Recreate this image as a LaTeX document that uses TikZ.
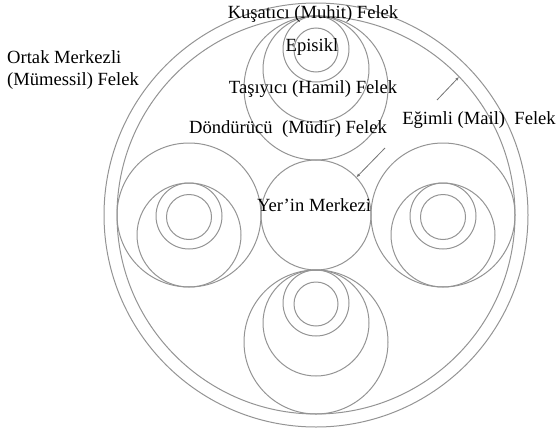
\documentclass[tikz,border=0pt]{standalone}
\usepackage{fontspec}
\setmainfont{Liberation Serif}
\usetikzlibrary{arrows.meta}
\begin{document}
\begin{tikzpicture}[x=1pt,y=-1pt,
  orb/.style={circle,draw=black!42,line width=1pt,inner sep=0pt,outer sep=0pt},
  lbl/.style={font=\fontsize{18.6}{22}\selectfont,inner sep=0pt,text=black},
  ptr/.style={draw=black!55,line width=0.8pt,-{Latex[length=4pt,width=3pt]}}]
\useasboundingbox (0,0) rectangle (559,431);
% outer spheres
\node[orb,minimum size=424pt] (outerA) at (316,215) {};
\node[orb,minimum size=398pt] (outerB) at (316,215) {};
% earth
\node[orb,minimum size=110pt] (earth) at (316,215) {};
% top system
\node[orb,minimum size=144pt] (tBig) at (316,88) {};
\node[orb,minimum size=106pt] (tMed) at (316,69) {};
\node[orb,minimum size=66pt] (tSml) at (316,49) {};
\node[orb,minimum size=44pt] (tEpi) at (316,50) {};
% bottom system
\node[orb,minimum size=144pt] (bBig) at (316,342) {};
\node[orb,minimum size=106pt] (bMed) at (316,323) {};
\node[orb,minimum size=66pt] (bSml) at (316,303) {};
\node[orb,minimum size=44pt] (bEpi) at (316,304) {};
% left system
\node[orb,minimum size=144pt] (lBig) at (189,215) {};
\node[orb,minimum size=104pt] (lMed) at (189,235) {};
\node[orb,minimum size=66pt] (lSml) at (189,216) {};
\node[orb,minimum size=45pt] (lEpi) at (189,217) {};
% right system
\node[orb,minimum size=144pt] (rBig) at (443,215) {};
\node[orb,minimum size=104pt] (rMed) at (443,235) {};
\node[orb,minimum size=66pt] (rSml) at (443,216) {};
\node[orb,minimum size=45pt] (rEpi) at (443,217) {};
% labels
\node[lbl] (muhit) at (313,14) {Kuşatıcı (Muhit) Felek};
\node[lbl] (episikl) at (312,47) {Episikl};
\node[lbl] (hamil) at (313,89) {Taşıyıcı (Hamil) Felek};
\node[lbl] (mudir) at (288,129) {Döndürücü\ \ (Müdir) Felek};
\node[lbl] (mail) at (479,120) {Eğimli (Mail)\ \ Felek};
\node[lbl,align=left,anchor=north west,font=\fontsize{18.6}{22}\selectfont] (mumessil) at (7,50) {Ortak Merkezli\\(Mümessil) Felek};
\node[lbl] (yer) at (314,205) {Yer’in Merkezi};
% pointers
\coordinate (p1) at (385,148);
\coordinate (p2) at (437,100);
\draw[ptr] (p1) -- (earth.43);
\draw[ptr] (p2) -- (outerB.44);
\end{tikzpicture}
\end{document}
